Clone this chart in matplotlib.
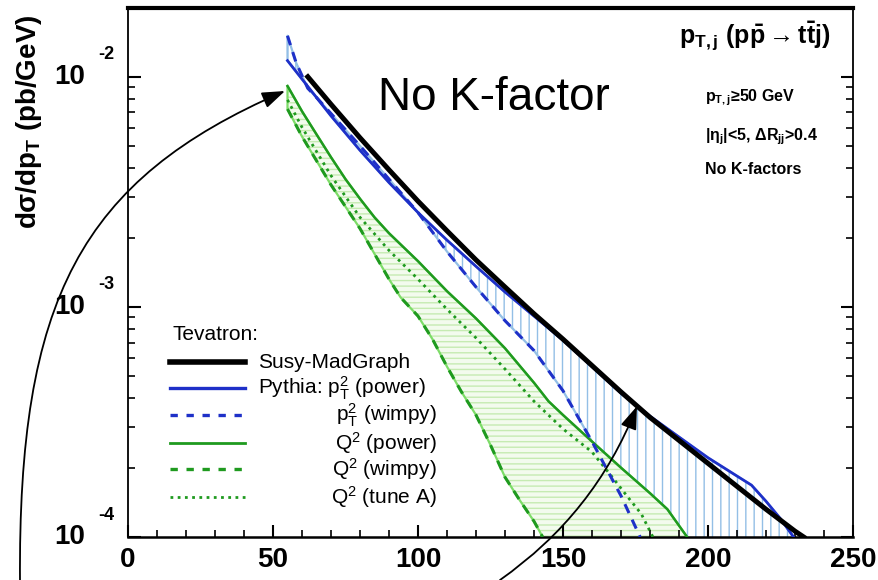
import numpy as np
import matplotlib
matplotlib.use('Agg')
import matplotlib.pyplot as plt
from matplotlib.lines import Line2D
from matplotlib.patches import FancyArrowPatch
from matplotlib.path import Path
from matplotlib.ticker import FixedLocator, LogLocator, MultipleLocator, NullFormatter

plt.rcParams['font.family'] = ['Liberation Sans', 'DejaVu Sans']
plt.rcParams['mathtext.fontset'] = 'custom'
plt.rcParams['mathtext.rm'] = 'Liberation Sans'
plt.rcParams['mathtext.bf'] = 'Liberation Sans:bold'
plt.rcParams['mathtext.it'] = 'Liberation Sans:italic'
plt.rcParams['mathtext.default'] = 'regular'
plt.rcParams['hatch.linewidth'] = 1.0

# ---------------- data (pT of jet in GeV, dsigma/dpT in pb/GeV) ----------------
black_x = [62, 70, 80, 90, 100, 110, 120, 130, 140, 150, 160, 170, 180, 190, 200, 210, 220, 230, 233]
black_y = [1.00e-2, 7.59e-3, 5.43e-3, 3.94e-3, 2.88e-3, 2.14e-3, 1.60e-3, 1.22e-3, 9.33e-4, 7.24e-4,
           5.56e-4, 4.27e-4, 3.31e-4, 2.63e-4, 2.09e-4, 1.66e-4, 1.32e-4, 1.06e-4, 1.00e-4]

bpow_x = [55, 60, 70, 80, 90, 100, 110, 120, 130, 140, 150, 160, 170, 180, 190, 200, 210, 215, 220, 225, 229.5]
bpow_y = [1.175e-2, 9.77e-3, 6.76e-3, 4.79e-3, 3.47e-3, 2.57e-3, 1.95e-3, 1.50e-3, 1.16e-3, 9.12e-4,
          7.16e-4, 5.50e-4, 4.22e-4, 3.35e-4, 2.72e-4, 2.21e-4, 1.84e-4, 1.68e-4, 1.43e-4, 1.20e-4, 1.00e-4]

bwim_x = [55, 58, 62, 65, 70, 80, 90, 100, 110, 120, 130, 140, 150, 160, 170, 176.6]
bwim_y = [1.507e-2, 1.148e-2, 8.91e-3, 8.13e-3, 6.92e-3, 5.01e-3, 3.59e-3, 2.57e-3, 1.74e-3, 1.22e-3,
          8.71e-4, 6.46e-4, 4.32e-4, 2.60e-4, 1.51e-4, 1.00e-4]

gpow_x = [55, 60, 65, 70, 75, 80, 85, 90, 100, 110, 120, 130, 140, 145, 150, 160, 170, 180, 186, 192.8]
gpow_y = [9.12e-3, 7.08e-3, 5.62e-3, 4.47e-3, 3.59e-3, 2.95e-3, 2.45e-3, 2.09e-3, 1.58e-3, 1.17e-3,
          8.91e-4, 6.61e-4, 4.68e-4, 3.89e-4, 3.39e-4, 2.60e-4, 2.00e-4, 1.55e-4, 1.32e-4, 1.00e-4]

gwim_x = [55, 60, 70, 80, 90, 94, 100, 105, 110, 115, 120, 125, 130, 135, 140, 143]
gwim_y = [7.24e-3, 5.50e-3, 3.39e-3, 2.19e-3, 1.32e-3, 1.10e-3, 9.12e-4, 7.24e-4, 5.50e-4, 4.27e-4,
          3.39e-4, 2.51e-4, 1.82e-4, 1.45e-4, 1.17e-4, 1.00e-4]

gtun_x = [55, 60, 70, 80, 90, 100, 110, 120, 130, 140, 150, 160, 167, 172, 177, 181]
gtun_y = [7.94e-3, 6.03e-3, 3.72e-3, 2.45e-3, 1.76e-3, 1.32e-3, 9.77e-4, 7.33e-4, 5.37e-4, 3.89e-4,
          2.95e-4, 2.34e-4, 1.82e-4, 1.51e-4, 1.26e-4, 1.00e-4]

x_ticks = [0, 50, 100, 150, 200, 250]
y_ticks = [1e-4, 1e-3, 1e-2]
y_exps = ['-4', '-3', '-2']

legend_labels = ['Susy-MadGraph', r'Pythia: $p_T^2$ (power)', r'$p_T^2$ (wimpy)',
                 r'$Q^2$ (power)', r'$Q^2$ (wimpy)', r'$Q^2$ (tune A)']

# ---------------- styles ----------------
BLUE = '#1e30c8'
GREEN = '#1f9a1f'
LBLUE = '#93bfe6'
LGREEN = '#7ddc68'
HGREEN = '#c6ebb2'

W, H = 879, 580
fig = plt.figure(figsize=(W / 100, H / 100), dpi=100)
ax = fig.add_axes([128 / W, 43 / H, 725 / W, 529 / H])


def fpx(x, y):
    return x / W, 1 - y / H


def envelope(curves, xmax):
    grid = np.linspace(55, xmax, 800)
    arr = []
    for cx, cy in curves:
        ly = np.interp(grid, cx, np.log10(cy), left=np.nan, right=np.nan)
        ly = np.where(np.isnan(ly), -6.0, ly)
        arr.append(ly)
    arr = np.array(arr)
    return grid, 10 ** arr.min(axis=0), 10 ** arr.max(axis=0)


# blue band (vertical hatch)
gx, lo, hi = envelope([(bpow_x, bpow_y), (bwim_x, bwim_y)], bpow_x[-1])
ax.fill_between(gx, lo, hi, facecolor='white', edgecolor=LBLUE, hatch='||', linewidth=1.6, zorder=1)

# green band (horizontal hatch)
gx2, lo2, hi2 = envelope([(gpow_x, gpow_y), (gwim_x, gwim_y), (gtun_x, gtun_y)], gpow_x[-1])
ax.fill_between(gx2, lo2, hi2, facecolor='#f3fbee', edgecolor=HGREEN, hatch='---', linewidth=0, zorder=1)
ax.fill_between(gx2, lo2, hi2, facecolor='none', edgecolor=LGREEN, linewidth=1.6, zorder=1.5)

# curves
ax.plot(gtun_x, gtun_y, color=GREEN, lw=2.0, dashes=(1.0, 1.6), zorder=3)
ax.plot(gwim_x, gwim_y, color=GREEN, lw=2.2, dashes=(3.2, 2.4), zorder=3)
ax.plot(gpow_x, gpow_y, color=GREEN, lw=1.8, zorder=3)
ax.plot(bwim_x, bwim_y, color=BLUE, lw=2.2, dashes=(3.2, 2.4), zorder=3)
ax.plot(bpow_x, bpow_y, color=BLUE, lw=2.0, zorder=3)
ax.plot(black_x, black_y, color='black', lw=3.6, zorder=4)

# axes
ax.set_xlim(0, 250)
ax.set_yscale('log')
ax.set_ylim(1e-4, 0.0199)
ax.xaxis.set_major_locator(FixedLocator(x_ticks))
ax.xaxis.set_minor_locator(MultipleLocator(10))
ax.yaxis.set_major_locator(FixedLocator(y_ticks))
ax.yaxis.set_minor_locator(LogLocator(base=10, subs=np.arange(2, 10)))
ax.yaxis.set_minor_formatter(NullFormatter())
ax.tick_params(axis='both', which='both', direction='in')
ax.tick_params(axis='y', which='both', left=True, right=True, labelleft=False)
ax.tick_params(axis='x', which='both', top=False, bottom=True)
ax.tick_params(which='major', length=9, width=1.5)
ax.tick_params(which='minor', length=5, width=1.2)
ax.tick_params(axis='x', which='major', labelsize=20, pad=7)
for lab in ax.get_xticklabels():
    lab.set_fontweight('bold')
ax.spines['top'].set_linewidth(3.0)
ax.spines['bottom'].set_linewidth(1.8)
ax.spines['left'].set_linewidth(1.3)
ax.spines['right'].set_linewidth(1.3)

for v, e in zip(y_ticks, y_exps):
    ax.annotate('10', xy=(0, v), xycoords=('axes fraction', 'data'), xytext=(-31, 0),
                textcoords='offset points', ha='right', va='center', fontsize=20,
                fontweight='bold', annotation_clip=False)
    ax.annotate(e, xy=(0, v), xycoords=('axes fraction', 'data'), xytext=(-21.6, 15.8),
                textcoords='offset points', ha='left', va='center', fontsize=13,
                fontweight='bold', annotation_clip=False)

# y label
fig.text(*fpx(29, 122), r'd$\sigma$/dp$_{\mathbf{T}}$ (pb/GeV)', rotation=90, fontsize=20,
         fontweight='bold', ha='center', va='center')

# texts
fig.text(*fpx(378, 110), 'No K-factor', fontsize=33, ha='left', va='baseline')
fig.text(*fpx(830, 36), r'$\mathbf{p_{T,j}}$ (p$\bar{\mathbf{p}}$$\rightarrow$t$\bar{\mathbf{t}}$j)',
         fontsize=18, fontweight='bold', ha='right', va='center')
fig.text(*fpx(705, 98), r'$\mathbf{p_{T,j}}$≥50 GeV', fontsize=11.5, fontweight='bold', va='center')
fig.text(*fpx(705, 137), r'|η$_{\mathbf{j}}$|<5, ΔR$_{\mathbf{jj}}$>0.4', fontsize=11.5,
         fontweight='bold', va='center')
fig.text(*fpx(705, 170), 'No K-factors', fontsize=11.5, fontweight='bold', va='center')

# legend (drawn by hand)
fig.text(*fpx(173, 335), 'Tevatron:', fontsize=15, va='center')
rows_y = [362, 388, 415, 443, 469, 497]
styles = [dict(color='black', lw=4.0), dict(color=BLUE, lw=2.4),
          dict(color=BLUE, lw=2.4, dashes=(2.2, 2.6)), dict(color=GREEN, lw=2.0),
          dict(color=GREEN, lw=2.4, dashes=(2.2, 2.6)), dict(color=GREEN, lw=2.0, dashes=(1.0, 1.6))]
for i, (yy, st, lab) in enumerate(zip(rows_y, styles, legend_labels)):
    (x0, y0), (x1, _) = fpx(170, yy), fpx(245, yy)
    fig.add_artist(Line2D([x0, x1], [y0, y0], transform=fig.transFigure, **st))
    if i < 2:
        fig.text(*fpx(258, yy), lab, fontsize=15, ha='left', va='center')
    else:
        fig.text(*fpx(437, yy), lab, fontsize=15, ha='right', va='center')

# arrow 1: hand-drawn style curve from the bottom edge to the start of the curves
arrow_pts = [fpx(20, 582), fpx(18, 300), fpx(80, 180), fpx(285, 91)]
arrow_path = Path(arrow_pts, [Path.MOVETO, Path.CURVE4, Path.CURVE4, Path.CURVE4])
fig.add_artist(FancyArrowPatch(path=arrow_path, transform=fig.transFigure,
                               arrowstyle='-|>,head_length=0.7,head_width=0.25',
                               color='black', lw=1.3, mutation_scale=20, zorder=6))

# arrow 2: points at the Susy-MadGraph curve
ax.annotate('', xy=(175.5, 3.7e-4), xycoords='data', xytext=(500, 0), textcoords='figure pixels',
            arrowprops=dict(arrowstyle='-|>,head_length=0.7,head_width=0.25',
                            connectionstyle='arc3,rad=0.15', color='black', lw=1.3,
                            shrinkA=0, shrinkB=0, mutation_scale=20),
            annotation_clip=False, zorder=6)

fig.savefig('out.png', dpi=100)
